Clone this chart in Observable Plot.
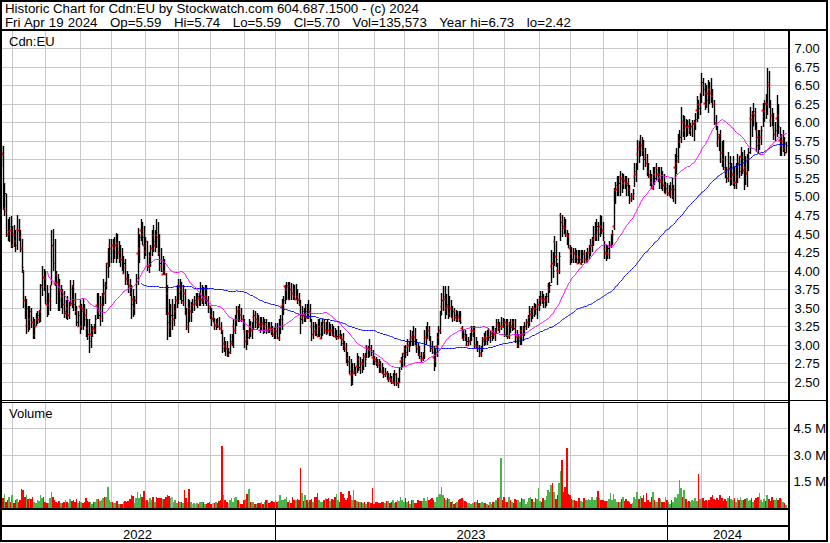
<!DOCTYPE html>
<html><head><meta charset="utf-8">
<script src="https://cdn.jsdelivr.net/npm/d3@7"></script>
<script src="https://cdn.jsdelivr.net/npm/@observablehq/plot@0.6"></script>
<style>
body{margin:0;background:#fff;}
#chart{position:relative;width:830px;height:543px;background:#fff;font-family:"Liberation Sans",Arial,sans-serif;font-size:13px;color:#000;overflow:hidden;}
#chart svg{position:absolute;left:0;}
.ln{position:absolute;background:#000;}
.tx{position:absolute;white-space:pre;line-height:13px;font-size:13px;}
.hd{font-size:13.3px;}
.hd2{font-size:13.3px;word-spacing:0.5px;}
</style></head><body><div id="chart"></div>
<script>
// ---------- data ----------
const startDate = "2022-04-21";
const holidays = ["2022-05-23","2022-07-01","2022-08-01","2022-09-05","2022-10-10","2022-12-26","2022-12-27",
  "2023-01-02","2023-02-20","2023-04-07","2023-05-22","2023-07-03","2023-08-07","2023-09-04","2023-10-09","2023-12-25","2023-12-26",
  "2024-01-01","2024-02-19","2024-03-29"];

const open = [
5.55,5.58,4.85,4.80,4.50,4.53,4.55,4.35,4.50,4.40, 4.56,4.55,4.45,4.30,4.00,3.60,3.27,3.25,3.35,3.45,
3.30,3.13,3.25,3.35,3.34,3.45,3.79,3.91,3.90,3.55, 3.54,3.60,3.80,4.33,3.83,3.95,3.85,3.79,3.74,3.65,
3.55,3.43,3.50,3.40,3.55,3.56,3.79,3.60,3.45,3.25, 3.52,3.25,3.50,3.45,3.40,3.22,3.15,3.14,3.20,3.23,
3.20,3.54,3.45,3.36,3.55,3.67,3.70,3.80,4.10,4.35, 4.30,4.35,4.30,4.35,4.37,4.25,4.17,4.15,3.97,4.05,
3.88,3.85,3.81,3.70,3.61,3.50,3.60,4.24,4.30,4.55, 4.50,4.35,4.26,4.40,4.06,4.20,4.30,4.48,4.35,4.48,
4.45,4.24,4.06,3.96,4.00,3.95,3.70,3.43,3.25,3.52, 3.34,3.45,3.60,3.81,3.79,3.75,3.57,3.70,3.40,3.25,
3.50,3.45,3.54,3.55,3.56,3.60,3.63,3.70,3.62,3.60, 3.65,3.65,3.60,3.52,3.40,3.36,3.30,3.27,3.28,3.25,
3.22,3.20,3.02,2.98,2.95,2.86,2.90,3.02,3.25,3.20, 3.33,3.45,3.48,3.42,3.35,3.18,3.05,3.07,3.19,3.25,
3.20,3.38,3.40,3.34,3.30,3.28,3.25,3.29,3.25,3.28, 3.20,3.22,3.22,3.18,3.15,3.20,3.20,3.09,3.25,3.52,
3.55,3.79,3.75,3.79,3.61,3.75,3.70,3.65,3.61,3.65, 3.61,3.55,3.38,3.40,3.40,3.38,3.38,3.45,3.25,3.15,
3.18,3.20,3.12,3.25,3.09,3.25,3.30,3.20,3.16,3.20, 3.18,3.20,3.15,3.12,3.10,3.09,3.12,3.10,3.07,3.00,
2.95,2.82,2.78,2.60,2.60,2.62,2.65,2.71,2.80,2.69, 2.75,2.75,2.85,2.98,2.95,2.96,2.95,2.84,2.80,2.80,
2.75,2.75,2.71,2.65,2.62,2.60,2.62,2.53,2.55,2.52, 2.50,2.48,2.60,2.48,2.50,2.78,2.80,2.89,2.95,2.98,
3.00,3.07,3.10,3.16,3.10,2.98,2.95,2.88,2.80,2.82, 2.89,3.10,3.09,3.20,2.98,2.95,2.84,2.78,2.98,3.10,
3.20,3.52,3.60,3.61,3.50,3.52,3.43,3.50,3.38,3.45, 3.38,3.34,3.38,3.35,3.22,3.09,3.12,3.00,2.99,3.05,
3.20,3.20,3.18,3.00,2.98,2.95,2.87,2.95,3.07,3.10, 3.09,3.12,3.10,3.16,3.20,3.15,3.20,3.28,3.22,3.25,
3.25,3.30,3.30,3.28,3.12,3.29,3.25,3.30,3.22,3.12, 3.00,3.10,3.20,3.15,3.22,3.25,3.30,3.38,3.42,3.45,
3.50,3.50,3.52,3.55,3.61,3.63,3.60,3.61,3.60,3.81, 3.75,4.06,4.10,4.40,4.20,4.01,4.00,4.75,4.65,4.60,
4.57,4.50,4.46,4.30,4.24,4.15,4.24,4.20,4.10,4.18, 4.10,4.15,4.24,4.15,4.12,4.25,4.33,4.35,4.42,4.45,
4.48,4.55,4.60,4.60,4.55,4.30,4.24,4.24,4.22,4.35, 4.50,4.60,5.09,5.10,5.14,5.27,5.25,5.18,5.22,5.18,
5.18,5.10,4.96,5.00,5.27,5.30,5.58,5.65,5.76,5.70, 5.63,5.55,5.45,5.35,5.27,5.20,5.11,5.30,5.40,5.30,
5.30,5.22,5.20,5.15,5.05,5.10,5.05,5.02,5.10,5.00, 5.40,5.45,5.49,5.75,5.81,6.00,5.90,5.95,5.94,5.95,
5.90,5.95,5.99,6.00,6.17,6.25,6.25,6.39,6.50,6.26, 6.40,6.40,6.45,6.40,6.35,6.25,5.99,5.72,5.80,5.85,
5.60,5.50,5.36,5.30,5.25,5.38,5.25,5.30,5.20,5.20, 5.27,5.45,5.54,5.40,5.36,5.40,5.32,5.50,6.06,6.05,
6.12,6.10,5.90,5.80,5.72,5.80,6.17,6.15,6.26,6.25, 6.50,6.03,6.10,5.94,5.85,6.06,6.10,5.76,5.70,5.75,
5.65,5.59];

const high = [
5.70,5.68,5.18,5.04,4.69,4.72,4.73,4.60,4.62,4.55, 4.75,4.70,4.55,4.42,4.01,3.65,3.61,3.52,3.52,3.50,
3.38,3.35,3.43,3.46,3.47,3.82,4.06,4.02,3.99,3.81, 3.70,3.80,4.55,4.56,4.42,4.00,3.95,3.88,3.80,3.75,
3.72,3.60,3.65,3.58,3.87,3.80,3.87,3.70,3.52,3.45, 3.61,3.55,3.61,3.55,3.48,3.35,3.34,3.28,3.25,3.28,
3.40,3.70,3.70,3.65,3.70,3.88,3.85,4.10,4.30,4.42, 4.42,4.42,4.45,4.51,4.50,4.40,4.35,4.30,4.20,4.15,
4.00,3.95,3.88,3.80,3.75,3.65,3.95,4.57,4.50,4.69, 4.66,4.60,4.45,4.40,4.25,4.35,4.55,4.62,4.55,4.69,
4.66,4.50,4.30,4.20,4.15,3.97,3.80,3.61,3.55,3.61, 3.55,3.65,3.81,3.88,3.88,3.85,3.80,3.75,3.50,3.61,
3.60,3.58,3.61,3.65,3.70,3.70,3.70,3.85,3.80,3.78, 3.81,3.80,3.65,3.52,3.50,3.45,3.36,3.35,3.36,3.38,
3.30,3.20,3.10,3.05,3.05,2.95,3.15,3.15,3.34,3.40, 3.52,3.52,3.55,3.50,3.40,3.34,3.20,3.20,3.34,3.32,
3.30,3.47,3.45,3.43,3.40,3.38,3.38,3.38,3.35,3.34, 3.30,3.30,3.30,3.25,3.22,3.29,3.29,3.34,3.40,3.61,
3.65,3.81,3.85,3.85,3.85,3.83,3.82,3.80,3.82,3.75, 3.70,3.60,3.52,3.50,3.55,3.55,3.60,3.55,3.34,3.30,
3.30,3.28,3.34,3.34,3.30,3.34,3.34,3.30,3.34,3.30, 3.28,3.28,3.25,3.22,3.20,3.25,3.20,3.15,3.16,3.05,
3.02,2.90,2.85,2.80,2.75,2.75,2.70,2.89,2.85,2.84, 2.80,2.89,2.89,3.00,2.98,3.07,3.00,2.93,2.85,2.84,
2.80,2.80,2.78,2.75,2.70,2.68,2.65,2.62,2.62,2.58, 2.62,2.66,2.62,2.55,2.70,2.84,2.89,2.98,3.00,3.07,
3.05,3.20,3.18,3.25,3.22,3.07,3.02,2.98,2.90,2.90, 3.20,3.25,3.30,3.25,3.12,3.05,2.98,2.95,3.16,3.25,
3.45,3.70,3.79,3.79,3.68,3.79,3.65,3.60,3.52,3.50, 3.47,3.45,3.45,3.45,3.25,3.20,3.20,3.15,3.10,3.16,
3.25,3.25,3.25,3.10,3.05,3.00,2.98,3.10,3.16,3.18, 3.20,3.22,3.18,3.25,3.25,3.22,3.34,3.34,3.30,3.38,
3.36,3.34,3.34,3.34,3.30,3.34,3.34,3.34,3.34,3.20, 3.15,3.25,3.25,3.25,3.30,3.34,3.40,3.52,3.50,3.52,
3.56,3.55,3.61,3.65,3.72,3.72,3.68,3.66,3.70,3.83, 3.85,4.28,4.25,4.46,4.40,4.10,4.25,4.78,4.75,4.72,
4.70,4.55,4.51,4.35,4.32,4.30,4.30,4.28,4.28,4.28, 4.28,4.28,4.28,4.25,4.30,4.35,4.42,4.45,4.60,4.66,
4.69,4.65,4.75,4.73,4.65,4.40,4.35,4.35,4.40,4.50, 4.55,5.11,5.20,5.28,5.27,5.34,5.32,5.30,5.28,5.27,
5.25,5.15,5.05,5.10,5.45,5.45,5.76,5.75,5.83,5.80, 5.76,5.65,5.58,5.45,5.36,5.30,5.40,5.40,5.45,5.40,
5.40,5.40,5.35,5.30,5.20,5.18,5.15,5.20,5.25,5.15, 5.58,5.65,5.85,5.90,6.21,6.10,6.08,6.05,6.03,6.05,
5.99,6.03,6.03,6.12,6.35,6.30,6.40,6.66,6.60,6.53, 6.50,6.57,6.55,6.60,6.45,6.30,6.10,5.95,5.85,5.90,
5.75,5.76,5.55,5.40,5.60,5.54,5.45,5.54,5.40,5.45, 5.58,5.55,5.67,5.60,5.63,5.55,5.58,5.65,6.21,6.15,
6.26,6.20,6.00,5.90,5.90,5.95,6.26,6.30,6.38,6.73, 6.70,6.30,6.20,6.12,6.00,6.37,6.25,5.94,5.85,5.90,
5.80,5.74];

const low = [
5.40,4.82,4.74,4.45,4.40,4.38,4.30,4.30,4.32,4.25, 4.28,4.40,4.25,3.97,3.50,3.34,3.14,3.17,3.20,3.22,
3.08,3.07,3.25,3.28,3.29,3.30,3.65,3.72,3.55,3.38, 3.40,3.45,3.80,4.00,3.79,3.55,3.45,3.45,3.50,3.42,
3.36,3.34,3.33,3.34,3.52,3.50,3.45,3.40,3.25,3.24, 3.14,3.20,3.20,3.25,3.10,3.06,2.89,2.95,3.10,3.14,
3.15,3.34,3.35,3.25,3.30,3.52,3.55,3.75,3.90,4.05, 4.10,4.10,4.15,4.10,4.15,4.10,4.05,4.00,3.95,3.80,
3.80,3.70,3.66,3.34,3.38,3.40,3.55,3.81,4.10,4.40, 4.35,4.15,4.20,4.00,3.97,4.05,4.20,4.25,4.25,4.30,
4.20,4.00,3.98,3.94,3.94,3.40,3.06,3.10,3.10,3.20, 3.25,3.35,3.50,3.55,3.60,3.55,3.52,3.40,3.20,3.16,
3.30,3.30,3.43,3.45,3.52,3.50,3.52,3.52,3.55,3.52, 3.55,3.52,3.43,3.34,3.25,3.30,3.20,3.20,3.22,3.20,
3.15,2.89,2.90,2.85,2.84,2.84,2.88,2.98,2.95,3.15, 3.25,3.30,3.30,3.30,3.20,2.95,2.93,3.00,3.07,3.10,
3.08,3.20,3.22,3.20,3.22,3.16,3.20,3.15,3.16,3.15, 3.16,3.16,3.13,3.10,3.08,3.07,3.07,3.05,3.15,3.20,
3.40,3.55,3.60,3.60,3.60,3.60,3.60,3.60,3.60,3.55, 3.52,3.15,3.28,3.30,3.30,3.34,3.34,3.30,3.05,3.08,
3.12,3.12,3.10,3.10,3.08,3.12,3.15,3.13,3.14,3.12, 3.12,3.12,3.10,3.09,3.06,3.08,3.08,2.98,2.93,2.90,
2.75,2.71,2.60,2.44,2.45,2.60,2.58,2.62,2.65,2.60, 2.62,2.66,2.70,2.82,2.82,2.84,2.85,2.73,2.72,2.71,
2.68,2.62,2.62,2.60,2.55,2.56,2.52,2.50,2.49,2.47, 2.47,2.44,2.44,2.42,2.48,2.66,2.70,2.71,2.82,2.85,
2.90,2.98,2.98,2.98,3.00,2.89,2.85,2.80,2.76,2.78, 2.80,3.00,3.07,3.05,2.90,2.88,2.64,2.70,2.84,3.00,
3.15,3.40,3.45,3.34,3.40,3.34,3.38,3.36,3.30,3.32, 3.30,3.30,3.30,3.28,3.07,3.05,3.05,2.98,2.98,3.00,
3.05,3.10,2.95,2.95,2.90,2.84,2.84,2.90,2.98,3.00, 3.00,3.05,3.02,3.05,3.08,3.05,3.15,3.18,3.16,3.20,
3.22,3.10,3.10,3.08,3.08,3.16,3.18,3.20,3.02,2.95, 2.96,3.00,3.00,3.05,3.12,3.20,3.22,3.25,3.30,3.35,
3.38,3.40,3.34,3.45,3.52,3.55,3.50,3.50,3.52,3.56, 3.70,3.83,3.90,4.06,4.05,3.81,3.95,4.40,4.45,4.50,
4.45,4.35,4.30,4.08,4.10,4.10,4.10,4.10,4.09,4.10, 4.08,4.10,4.10,4.10,4.12,4.15,4.20,4.25,4.33,4.40,
4.40,4.40,4.45,4.50,4.40,4.15,4.13,4.15,4.15,4.30, 4.35,4.55,4.90,5.00,5.00,5.00,5.05,5.10,5.10,5.00,
5.00,4.90,4.92,4.95,5.13,5.20,5.36,5.45,5.54,5.55, 5.36,5.40,5.27,5.25,5.14,5.10,5.09,5.15,5.22,5.20,
5.10,5.10,5.08,5.05,5.04,5.00,5.00,4.98,4.97,4.92, 4.90,5.30,5.45,5.65,5.72,5.80,5.76,5.80,5.81,5.85,
5.81,5.80,5.75,5.90,6.00,6.05,6.10,6.26,6.35,6.17, 6.20,6.12,6.25,6.26,6.20,5.97,5.90,5.67,5.62,5.45,
5.40,5.36,5.25,5.18,5.20,5.14,5.15,5.14,5.10,5.10, 5.18,5.25,5.27,5.30,5.09,5.15,5.13,5.35,5.58,5.80,
5.95,5.90,5.60,5.58,5.63,5.70,5.94,6.00,6.05,6.10, 6.20,5.94,5.95,5.76,5.75,5.80,5.85,5.54,5.55,5.60,
5.55,5.59];

const close = [
5.60,4.90,5.05,4.55,4.45,4.60,4.40,4.50,4.40,4.35, 4.55,4.50,4.30,4.05,3.60,3.40,3.50,3.30,3.45,3.30,
3.15,3.25,3.35,3.40,3.45,3.80,3.90,3.85,3.60,3.50, 3.60,3.75,4.35,4.10,4.00,3.85,3.70,3.60,3.65,3.55,
3.45,3.50,3.40,3.55,3.75,3.70,3.55,3.45,3.30,3.40, 3.30,3.45,3.40,3.35,3.20,3.15,3.05,3.20,3.22,3.20,
3.35,3.45,3.40,3.55,3.60,3.80,3.75,4.05,4.25,4.30, 4.35,4.20,4.35,4.40,4.25,4.30,4.15,4.05,4.10,3.90,
3.85,3.80,3.75,3.55,3.50,3.60,3.90,4.30,4.45,4.50, 4.45,4.25,4.40,4.05,4.20,4.30,4.45,4.40,4.50,4.45,
4.30,4.10,4.00,4.05,3.95,3.50,3.30,3.25,3.40,3.40, 3.50,3.60,3.75,3.70,3.75,3.60,3.70,3.45,3.30,3.50,
3.45,3.55,3.55,3.60,3.60,3.65,3.55,3.60,3.70,3.65, 3.70,3.60,3.50,3.40,3.35,3.35,3.25,3.30,3.25,3.22,
3.20,2.95,3.00,2.95,2.90,2.90,3.05,3.10,3.20,3.35, 3.45,3.40,3.40,3.35,3.25,3.05,3.15,3.10,3.25,3.20,
3.25,3.40,3.30,3.32,3.28,3.25,3.30,3.25,3.30,3.20, 3.25,3.20,3.18,3.15,3.12,3.18,3.10,3.25,3.35,3.55,
3.60,3.75,3.80,3.65,3.75,3.70,3.65,3.62,3.70,3.60, 3.55,3.35,3.45,3.40,3.45,3.40,3.45,3.35,3.15,3.25,
3.20,3.15,3.13,3.15,3.20,3.30,3.20,3.25,3.20,3.18, 3.20,3.15,3.12,3.10,3.12,3.15,3.10,3.02,3.00,2.95,
2.80,2.78,2.65,2.55,2.65,2.70,2.62,2.80,2.70,2.75, 2.70,2.85,2.80,2.95,2.90,2.95,2.90,2.80,2.78,2.75,
2.72,2.70,2.65,2.62,2.60,2.62,2.55,2.57,2.52,2.50, 2.55,2.60,2.48,2.50,2.65,2.80,2.85,2.95,2.90,3.00,
2.98,3.10,3.05,3.10,3.05,2.95,2.90,2.85,2.82,2.85, 3.10,3.15,3.20,3.10,2.95,2.90,2.75,2.90,3.10,3.20,
3.40,3.60,3.65,3.50,3.55,3.45,3.50,3.40,3.45,3.40, 3.35,3.40,3.35,3.30,3.10,3.15,3.08,3.05,3.06,3.10,
3.15,3.20,3.00,3.05,2.95,2.90,2.95,3.05,3.10,3.05, 3.15,3.10,3.12,3.20,3.15,3.18,3.30,3.22,3.25,3.30,
3.28,3.15,3.28,3.12,3.25,3.24,3.30,3.22,3.10,3.05, 3.10,3.20,3.15,3.20,3.25,3.30,3.35,3.45,3.46,3.40,
3.50,3.48,3.55,3.60,3.65,3.62,3.58,3.60,3.65,3.75, 3.80,4.10,4.00,4.25,4.15,4.00,4.20,4.65,4.58,4.55,
4.50,4.45,4.35,4.20,4.15,4.25,4.20,4.15,4.20,4.15, 4.20,4.22,4.15,4.20,4.25,4.30,4.35,4.40,4.50,4.55,
4.60,4.50,4.65,4.55,4.45,4.25,4.20,4.30,4.35,4.45, 4.50,5.05,5.15,5.20,5.18,5.25,5.20,5.22,5.20,5.15,
5.10,5.00,4.98,5.05,5.35,5.40,5.65,5.55,5.70,5.60, 5.50,5.45,5.35,5.30,5.20,5.15,5.30,5.25,5.30,5.35,
5.20,5.25,5.15,5.10,5.12,5.05,5.08,5.10,5.00,5.10, 5.45,5.55,5.75,5.80,6.00,5.90,5.95,5.90,5.95,5.92,
5.95,5.98,6.00,6.05,6.25,6.20,6.30,6.55,6.45,6.40, 6.30,6.45,6.40,6.35,6.25,6.00,5.95,5.85,5.70,5.60,
5.50,5.40,5.30,5.25,5.45,5.25,5.30,5.40,5.15,5.30, 5.45,5.35,5.40,5.50,5.40,5.30,5.50,5.60,6.10,5.95,
6.15,6.00,5.70,5.65,5.80,5.90,6.15,6.25,6.20,6.55, 6.30,6.10,6.00,5.85,5.90,6.10,5.95,5.65,5.75,5.80,
5.60,5.70];

// volume in thousands of shares
const volumeK = [
690,560,780,330,420,600,320,700,240,410, 510,300,420,1070,980,620,720,510,560,460,
610,320,250,420,390,700,560,600,330,230, 260,550,900,600,420,300,260,380,250,270,
320,420,300,260,500,360,420,320,470,230, 380,300,250,330,520,380,290,310,220,330,
300,510,460,380,410,560,580,600,1170,420, 300,330,250,270,360,180,220,200,300,380,
330,380,470,700,640,260,560,900,520,790, 600,930,380,420,330,520,450,600,330,580,
560,550,520,460,460,580,720,640,560,600, 330,400,270,380,310,330,250,980,560,320,
1070,300,220,280,190,250,190,320,290,310, 180,220,250,290,190,280,240,330,280,380,
400,3500,700,420,300,230,420,520,320,560, 580,400,300,220,200,420,460,790,1070,310,
290,330,220,180,240,230,300,200,330,410, 400,250,330,390,300,420,310,370,700,420,
400,500,570,320,420,230,600,410,400,500, 420,2250,850,390,700,410,320,400,480,300,
580,600,850,420,330,320,400,520,470,560, 350,500,400,620,750,400,330,900,790,520,
420,520,920,700,420,980,420,380,340,330, 310,280,320,200,340,330,260,1130,220,330,
320,230,250,320,300,280,350,380,230,330, 400,250,330,420,380,570,400,320,520,300,
350,220,400,420,240,250,420,350,380,370, 550,350,620,400,480,560,420,330,600,720,
740,1150,700,520,420,560,480,330,380,210, 280,300,420,460,520,400,390,330,260,280,
200,230,320,320,420,240,230,300,270,250, 180,160,310,220,300,340,420,560,600,2800,
400,590,330,300,620,420,330,270,460,420, 400,330,560,460,470,220,340,520,600,470,
320,540,470,1100,350,320,560,420,660,970, 880,1300,1400,900,500,700,1400,2050,2700,900,
1150,3370,750,700,500,420,400,380,360,540, 380,300,560,420,400,460,400,620,420,400,
620,950,560,440,420,360,380,360,500,800, 420,740,480,300,340,320,460,600,360,470,
360,340,200,240,580,460,900,460,640,520, 700,300,850,440,300,580,900,420,340,300,
520,470,340,300,600,420,300,220,400,300, 620,560,740,1580,1100,620,1000,460,300,360,
300,400,370,550,380,1920,480,520,560,360, 440,360,450,600,700,470,400,560,400,700,
520,370,460,380,560,650,470,440,560,300, 520,420,600,400,420,460,520,360,440,520,
300,420,560,600,850,420,340,460,380,700, 500,360,600,420,450,530,400,520,500,320,
250,136];

const priceTicks = [2.50,2.75,3.00,3.25,3.50,3.75,4.00,4.25,4.50,4.75,5.00,5.25,5.50,5.75,6.00,6.25,6.50,6.75,7.00];
const volumeTicksM = [1.5,3.0,4.5];
const headerLine1 = "Historic Chart for Cdn:EU by Stockwatch.com 604.687.1500 - (c) 2024";
const headerLine2 = "Fri Apr 19 2024   Op=5.59   Hi=5.74   Lo=5.59   Cl=5.70   Vol=135,573   Year hi=6.73   lo=2.42";
const symbolLabel = "Cdn:EU";
const volumeLabel = "Volume";
const shortMA = 30, longMA = 90;

// ---------- build ----------
const hol = new Set(holidays);
const dates = [];
{
  const d = new Date(startDate + "T00:00:00Z");
  while (dates.length < close.length) {
    const wd = d.getUTCDay();
    const iso = d.toISOString().slice(0, 10);
    if (wd !== 0 && wd !== 6 && !hol.has(iso)) dates.push(new Date(d));
    d.setUTCDate(d.getUTCDate() + 1);
  }
}
const N = close.length;
const rows = close.map((c, i) => ({
  i, date: dates[i], o: open[i], h: high[i], l: low[i], c, v: volumeK[i] * 1000,
  dir: i === 0 ? -1 : Math.sign(c - close[i - 1])
}));
const monthStarts = [], yearStarts = [];
for (let i = 1; i < N; i++) {
  if (dates[i].getUTCMonth() !== dates[i - 1].getUTCMonth()) monthStarts.push(i);
  if (dates[i].getUTCFullYear() !== dates[i - 1].getUTCFullYear()) yearStarts.push(i);
}
const years = [dates[0].getUTCFullYear(), ...yearStarts.map(i => dates[i].getUTCFullYear())].map(String);

const grid = "#c8c8c8";
const font = {background: "transparent", fontFamily: '"Liberation Sans", Arial, sans-serif', fontSize: "13px", color: "#000", overflow: "visible"};
const xOpts = {type: "linear", domain: [0, N - 1], range: [1.3, 786.0], round: true, axis: null};

const pricePlot = Plot.plot({
  width: 830, height: 369, marginLeft: 2, marginRight: 42, marginTop: 0, marginBottom: 0,
  style: font,
  x: xOpts,
  y: {domain: [2.5, 7], range: [350.7, 17.3], round: true, axis: null},
  marks: [
    Plot.ruleY(priceTicks, {stroke: grid}),
    Plot.ruleX(monthStarts, {stroke: grid}),
    Plot.ruleX(rows, {x: "i", y1: "l", y2: "h", stroke: "#000", strokeWidth: 1.4}),
    Plot.link(rows, {x1: "i", x2: d => d.i + 0.7, y1: "c", y2: "c", stroke: "#000", strokeWidth: 1}),
    Plot.link(rows, {x1: d => d.i - 0.9, x2: "i", y1: "o", y2: "o", stroke: "#ff0000", strokeWidth: 2}),
    Plot.lineY(rows, Plot.windowY({k: longMA, anchor: "end", strict: true}, {x: "i", y: "c", stroke: "#0000ff", strokeWidth: 1})),
    Plot.lineY(rows, Plot.windowY({k: shortMA, anchor: "end", strict: true}, {x: "i", y: "c", stroke: "#ff00ff", strokeWidth: 1})),
    Plot.axisY(priceTicks, {anchor: "right", tickSize: 0, tickPadding: 6, textAnchor: "start", tickFormat: d3.format(".2f"), label: null, fill: "#000"})
  ]
});

const volPlot = Plot.plot({
  width: 830, height: 105, marginLeft: 2, marginRight: 42, marginTop: 0, marginBottom: 0,
  style: font,
  x: xOpts,
  y: {domain: [0, 4.5e6], range: [104.5, 25.3], round: true, axis: null},
  color: {type: "identity"},
  marks: [
    Plot.ruleY(volumeTicksM.map(v => v * 1e6), {stroke: grid}),
    Plot.ruleX(monthStarts, {stroke: grid}),
    Plot.rect(rows, {x1: d => d.i - 0.5, x2: d => d.i + 0.5, y1: 0, y2: "v",
      fill: d => d.dir > 0 ? "#4cb24c" : d.dir < 0 ? "#ff0000" : "#a8a8a8"}),
    Plot.axisY(volumeTicksM.map(v => v * 1e6), {anchor: "right", tickSize: 0, tickPadding: 5, textAnchor: "start",
      tickFormat: d => (d / 1e6).toFixed(1) + " M", label: null, fill: "#000"})
  ]
});

const root = document.getElementById("chart");
pricePlot.style.top = "31px";
volPlot.style.top = "403px";
root.appendChild(pricePlot);
root.appendChild(volPlot);

function line(l, t, w, h) {
  const d = document.createElement("div");
  d.className = "ln";
  Object.assign(d.style, {left: l + "px", top: t + "px", width: w + "px", height: h + "px"});
  root.appendChild(d);
}
function text(s, l, t, center, cls) {
  const d = document.createElement("div");
  d.className = "tx" + (cls ? " " + cls : "");
  d.textContent = s;
  Object.assign(d.style, {left: l + "px", top: t + "px"});
  if (center) d.style.transform = "translateX(-50%)";
  root.appendChild(d);
}
const xs = pricePlot.scale("x");
// frame
const frame = document.createElement("div");
Object.assign(frame.style, {position: "absolute", left: "0px", top: "0px", width: "828px", height: "542px", border: "2px solid #000", boxSizing: "border-box"});
root.appendChild(frame);
line(0, 29, 828, 2);      // under header
line(0, 400, 828, 1);     // price / volume double line
line(0, 402, 790, 1);
line(0, 508, 790, 2);     // under volume
line(0, 525, 790, 2);     // between axis rows
line(788, 29, 2, 513);    // right axis line
const bounds = [0, ...yearStarts.map(i => Math.round(xs.apply(i))), 788];
yearStarts.forEach(i => line(Math.round(xs.apply(i)), 509, 1, 32));
years.forEach((y, k) => text(y, (bounds[k] + bounds[k + 1]) / 2, 527.5, true));

text(headerLine1, 5, 2.3, false, "hd");
text(headerLine2, 5, 15.7, false, "hd2");
text(symbolLabel, 9, 34.7);
text(volumeLabel, 9, 406.7);
</script></body></html>
